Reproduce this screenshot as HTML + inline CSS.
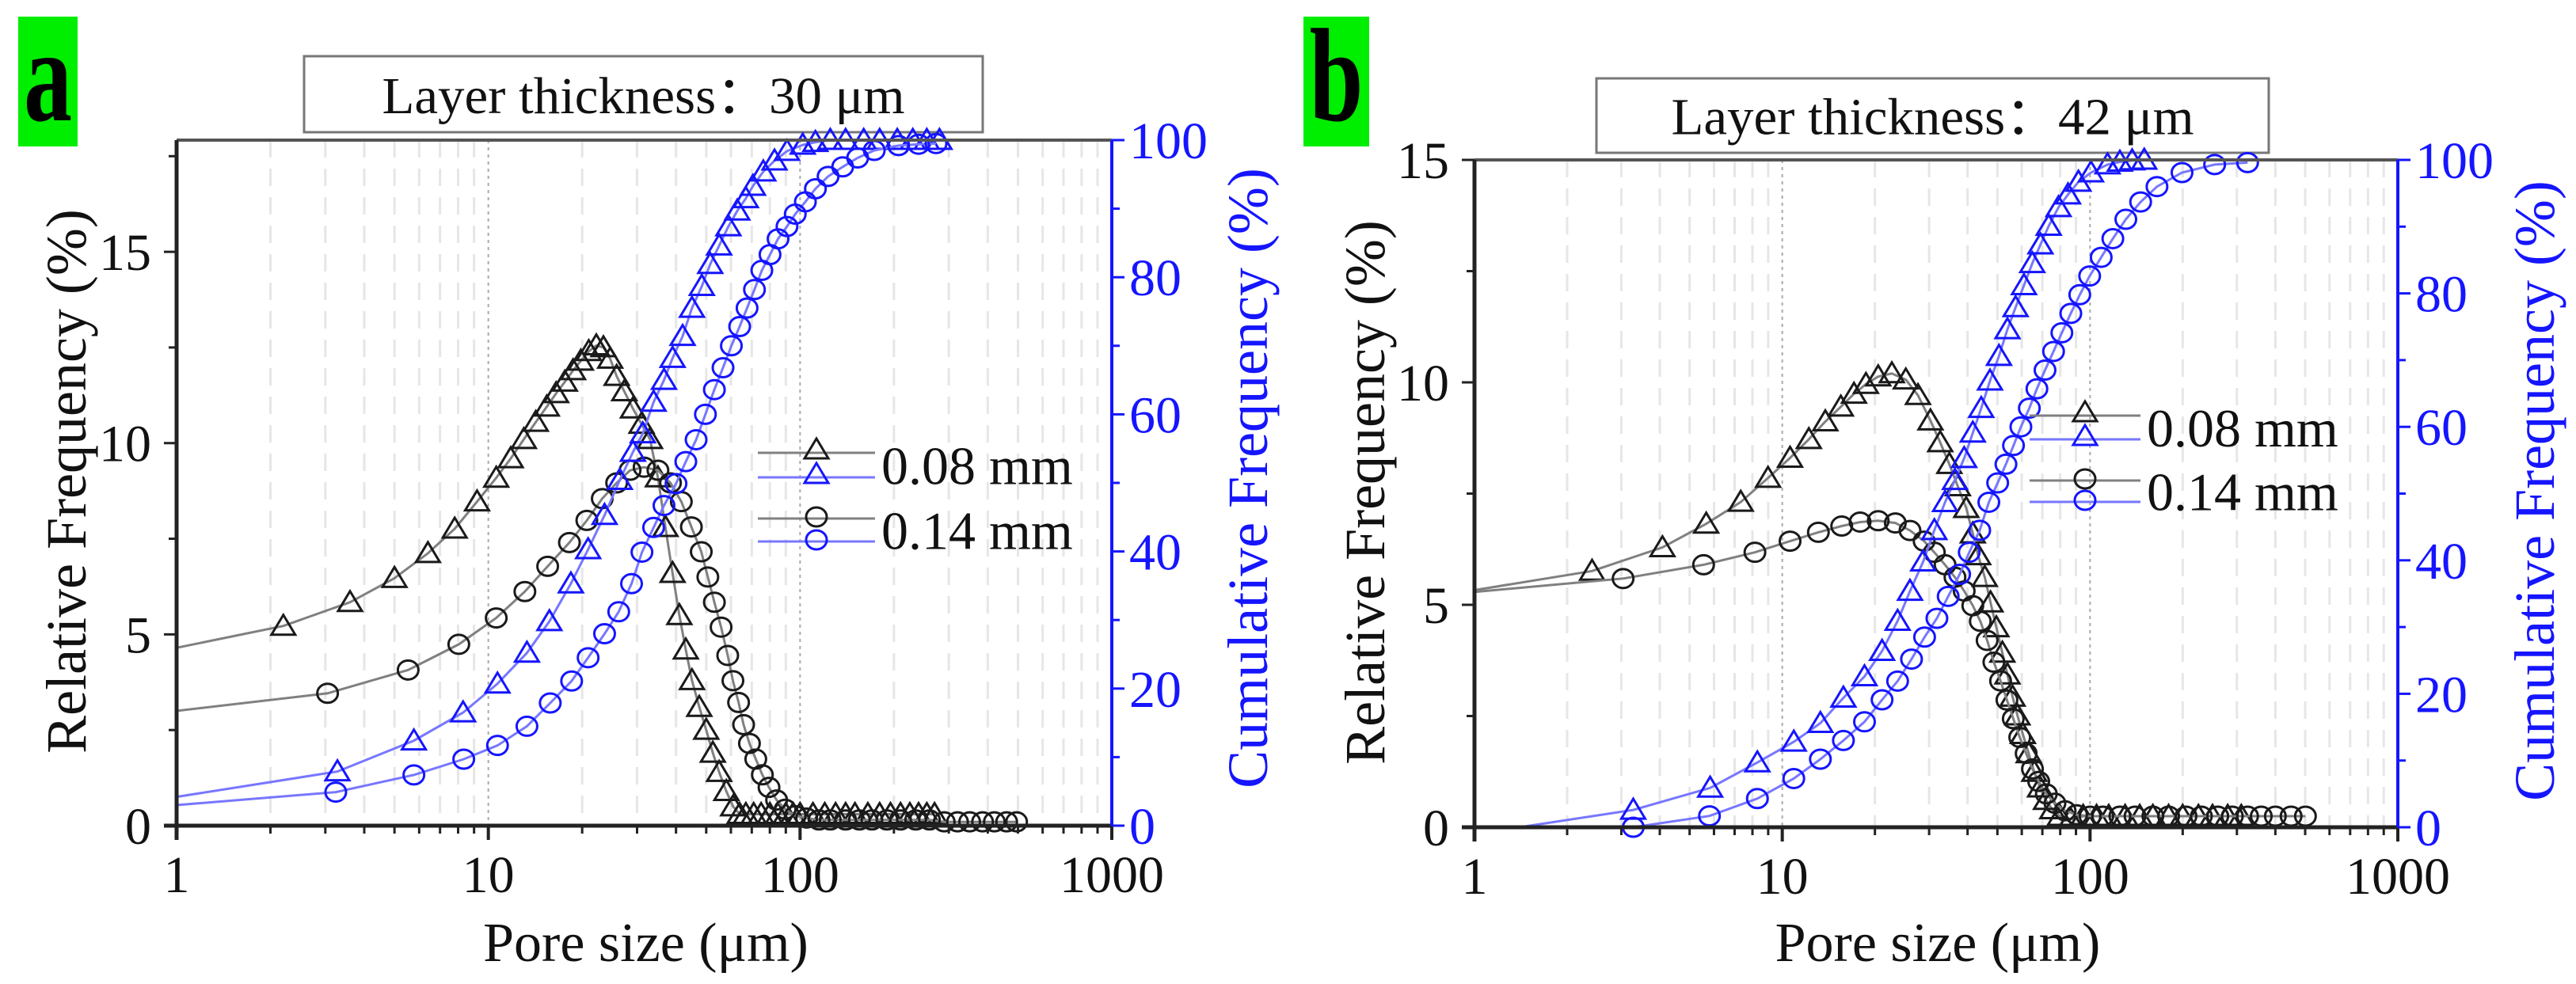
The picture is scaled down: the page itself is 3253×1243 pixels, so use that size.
<!DOCTYPE html>
<html><head><meta charset="utf-8">
<style>
html,body{margin:0;padding:0;background:#fff;}
svg{display:block;font-family:"Liberation Serif","DejaVu Serif",serif;}
</style></head>
<body>
<svg id="fig" width="3253" height="1243" viewBox="0 0 3253 1243" xmlns="http://www.w3.org/2000/svg">
<rect x="0" y="0" width="3253" height="1243" fill="#fff"/>
</svg>
<script>
// ---------------- Data: panel a (layer thickness 30 um) ----------------
const aRelTriX = [1, 2.2, 3.6, 5.0, 6.4, 7.8, 9.2, 10.6, 11.8, 13, 14.2, 15.4, 16.5, 17.6, 18.7, 19.8, 21, 22.2, 23.4, 24.6, 25.8, 27.3, 29.1, 31, 33, 35, 37, 39, 41, 43, 45, 47.5, 50, 52.5, 55, 58, 61, 64, 67, 71, 75, 80, 85, 90, 95, 100, 110, 120, 130, 140, 150, 165, 180, 195, 210, 225, 240, 255, 270];
const aRelTriY = [4.65, 5.22, 5.84, 6.47, 7.12, 7.76, 8.47, 9.09, 9.6, 10.1, 10.55, 10.95, 11.3, 11.6, 11.9, 12.15, 12.4, 12.55, 12.5, 12.2, 11.75, 11.35, 10.9, 10.5, 10.1, 9.1, 7.8, 6.6, 5.5, 4.6, 3.8, 3.1, 2.5, 1.9, 1.4, 0.9, 0.5, 0.3, 0.3, 0.3, 0.3, 0.3, 0.3, 0.3, 0.3, 0.3, 0.3, 0.3, 0.3, 0.3, 0.3, 0.3, 0.3, 0.3, 0.3, 0.3, 0.3, 0.3, 0.3];
const aRelCirX = [1, 3.05, 5.53, 8.04, 10.6, 13.1, 15.5, 18.2, 20.7, 23.2, 25.8, 28.5, 31.6, 35, 38.4, 41.6, 44.8, 48.2, 50.6, 53.1, 55.8, 58.6, 60.9, 63.5, 65.9, 68.8, 72.1, 75.7, 79.5, 84.1, 89.6, 96.5, 105, 115, 125, 140, 155, 170, 190, 210, 235, 260, 290, 320, 350, 385, 420, 460, 495];
const aRelCirY = [3.0, 3.46, 4.07, 4.74, 5.43, 6.12, 6.78, 7.4, 7.98, 8.55, 8.96, 9.29, 9.37, 9.29, 8.96, 8.47, 7.81, 7.16, 6.5, 5.84, 5.19, 4.45, 3.79, 3.22, 2.64, 2.15, 1.74, 1.33, 1.0, 0.67, 0.43, 0.26, 0.2, 0.15, 0.15, 0.15, 0.15, 0.15, 0.15, 0.15, 0.15, 0.15, 0.1, 0.1, 0.1, 0.1, 0.1, 0.1, 0.1];
const aCumTriX = [1, 3.28, 5.77, 8.3, 10.7, 13.3, 15.7, 18.4, 20.9, 23.6, 26.4, 29.1, 31.3, 33.9, 36.6, 39.0, 42, 45, 48.4, 51.5, 55, 58.9, 62.9, 67, 70.6, 76.2, 82.8, 90.8, 102, 112, 125, 140, 160, 180, 205, 230, 255, 280];
const aCumTriY = [4.2, 7.9, 12.4, 16.5, 20.7, 25.2, 29.8, 35.3, 40.3, 45.3, 50.4, 54.5, 57.2, 61.8, 65, 68.2, 71.4, 75.5, 78.7, 81.9, 84.6, 87.4, 89.7, 91.5, 93.3, 95.4, 97, 98.4, 99.3, 99.7, 100, 100, 100, 100, 100, 100, 100, 100];
const aCumCirX = [1, 3.24, 5.77, 8.34, 10.7, 13.3, 15.8, 18.5, 20.9, 23.6, 26.2, 28.8, 31.1, 33.9, 36.6, 40, 43, 46.4, 49.7, 53.1, 56.6, 60.2, 64, 67.6, 71.4, 75.4, 80.1, 85, 90.8, 96.5, 104, 112, 123, 137, 153, 173, 207, 240, 273];
const aCumCirY = [3.0, 4.9, 7.4, 9.7, 11.7, 14.5, 17.9, 21.1, 24.5, 28, 31.2, 35.3, 39.9, 43.5, 46.7, 49.9, 53.1, 56.3, 60, 63.6, 66.8, 70, 72.8, 75.5, 78.2, 81, 83.3, 85.6, 87.4, 89.2, 91, 92.9, 94.7, 96.1, 97.4, 98.5, 99.2, 99.4, 99.5];

// ---------------- Data: panel b (layer thickness 42 um) ----------------
const bRelTriX = [1, 2.41, 4.08, 5.66, 7.33, 8.99, 10.6, 12.2, 13.8, 15.5, 17.1, 18.7, 20.5, 22.7, 25.2, 27.6, 30.3, 32.6, 34.9, 37.2, 39.6, 41.6, 43.3, 45.5, 47.5, 49.6, 51.9, 53.9, 56, 58.1, 60.5, 63.2, 65.9, 68.8, 71.9, 75.4, 79.8, 86.5, 95, 105, 115, 130, 145, 160, 180, 200, 225, 250, 280, 310];
const bRelTriY = [5.33, 5.76, 6.29, 6.82, 7.31, 7.85, 8.3, 8.72, 9.12, 9.45, 9.74, 9.96, 10.13, 10.2, 10.06, 9.71, 9.14, 8.65, 8.16, 7.66, 7.17, 6.6, 6.11, 5.62, 5.05, 4.49, 3.92, 3.43, 2.93, 2.51, 2.09, 1.66, 1.24, 0.89, 0.61, 0.4, 0.25, 0.18, 0.25, 0.25, 0.25, 0.25, 0.25, 0.25, 0.25, 0.25, 0.25, 0.25, 0.25, 0.25];
const bRelCirX = [1, 3.04, 5.55, 8.15, 10.6, 13.1, 15.6, 17.9, 20.5, 23.3, 26, 28.9, 31.2, 33.8, 36.4, 39, 41.6, 44, 46.3, 48.7, 51.2, 53.7, 56.3, 59.1, 62, 65, 68.1, 72.1, 76.9, 83, 90.4, 100, 110, 125, 140, 160, 180, 205, 230, 260, 290, 325, 360, 400, 450, 501];
const bRelCirY = [5.29, 5.59, 5.9, 6.18, 6.43, 6.63, 6.77, 6.86, 6.89, 6.84, 6.67, 6.43, 6.18, 5.9, 5.62, 5.31, 4.98, 4.63, 4.2, 3.71, 3.29, 2.86, 2.44, 2.02, 1.66, 1.31, 1.03, 0.75, 0.54, 0.37, 0.28, 0.25, 0.25, 0.25, 0.25, 0.25, 0.25, 0.25, 0.25, 0.25, 0.25, 0.25, 0.25, 0.25, 0.25, 0.25];
const bCumTriX = [1.4, 3.28, 5.83, 8.3, 10.9, 13.3, 15.8, 18.5, 21.1, 23.7, 26, 28.7, 31.2, 33.8, 36.4, 39, 41.6, 44.3, 47.3, 50.6, 53.9, 57.3, 61, 64.9, 69, 73.4, 79, 84.8, 91.7, 100.7, 114, 125, 137, 150];
const bCumTriY = [0, 2.6, 5.9, 9.7, 12.8, 15.6, 19.4, 22.6, 26.4, 30.9, 35.4, 39.8, 44.5, 48.7, 52, 55.3, 59.1, 62.8, 66.9, 70.6, 74.6, 77.9, 81.2, 84.5, 87.3, 90.1, 92.9, 94.8, 96.7, 98.1, 99.3, 99.7, 99.9, 100];
const bCumCirX = [2.8, 3.28, 5.8, 8.3, 10.9, 13.3, 15.8, 18.5, 21.1, 23.7, 26.3, 29, 31.8, 34.6, 37.7, 40.5, 43.8, 46.9, 50.1, 53.3, 56.4, 59.6, 63.5, 67.2, 71.4, 76.1, 81, 86.6, 92.6, 99.7, 108.7, 118.6, 130.7, 146, 165, 199, 254, 325];
const bCumCirY = [0, 0, 1.7, 4.3, 7.3, 10.2, 13, 15.8, 19.1, 21.9, 25.2, 28.5, 31.3, 34.6, 37.9, 41.2, 44.5, 48.7, 51.6, 54.4, 57.2, 60, 62.8, 65.7, 68.5, 71.3, 74.1, 77, 79.8, 82.6, 85.4, 88.2, 91.1, 93.7, 96, 98.1, 99.3, 99.6];

// tick labels
const xTickValues = [1, 10, 100, 1000];
const xTickLabels = ["1", "10", "100", "1000"];
const aLeftTicks = [0, 5, 10, 15];
const bLeftTicks = [0, 5, 10, 15];
const rightTicks = [0, 20, 40, 60, 80, 100];
const seriesLabels = ["0.08 mm", "0.14 mm"];

const NS = "http://www.w3.org/2000/svg";
const svg = document.getElementById('fig');
function el(tag, attrs, parent) {
  const e = document.createElementNS(NS, tag);
  for (const k in attrs) e.setAttribute(k, attrs[k]);
  (parent || svg).appendChild(e);
  return e;
}
function txt(s, attrs, parent) { const t = el('text', attrs, parent); t.textContent = s; return t; }

const BLACK = "#1a1a1a", GRAY = "#808080", BLUE = "#1515ff", LBLUE = "#7777ff";

function triangle(g, x, y, color) {
  const p = el('polygon', {points: `${x},${y-14} ${x-15},${y+11} ${x+15},${y+11}`, fill: 'none', stroke: color, 'stroke-width': 3}, g);
  return p;
}
function circle(g, x, y, color) {
  return el('ellipse', {cx: x, cy: y, rx: 13, ry: 12, fill: 'none', stroke: color, 'stroke-width': 3}, g);
}

function panel(cfg) {
  const {L, R, T, B, ymax, key} = cfg;
  const g = el('g', {});
  
  
  const xs = v => L + (Math.log10(v) / 3) * (R - L);
  const yl = v => B - v / ymax * (B - T);
  const yr = v => B - v / 100 * (B - T);

  // panel letter
  const lb = el('rect', {x: cfg.letterX, y: 21, width: cfg.letterW, height: 164, fill: '#00ee00'}, g);
  
  
  const lt = txt(key, {x: 0, y: 0, 'font-size': 122, 'font-weight': 'bold', 'text-anchor': 'middle', fill: '#000',
    transform: `translate(${cfg.letterX + cfg.letterW/2},152) scale(1,1.38)`}, g);
  
  

  // title box
  const tb = el('rect', {x: cfg.tbx, y: cfg.tby, width: cfg.tbw, height: cfg.tbh, fill: '#fff', stroke: '#777', 'stroke-width': 3}, g);
  
  
  const tt = txt(cfg.title, {x: cfg.tbx + cfg.tbw/2, y: cfg.tby + cfg.tbh*0.75, 'font-size': 66, 'text-anchor': 'middle', fill: '#111',
    textLength: cfg.titleLen, lengthAdjust: 'spacingAndGlyphs'}, g);
  
  

  // grid
  const grid = el('g', {}, g);
  
  
  for (let d = 0; d < 3; d++) {
    for (let m = 1; m <= 9; m++) {
      const v = Math.pow(10, d) * m;
      if (m === 1 && d === 0) continue;
      const x = xs(v);
      if (m === 1) el('line', {x1: x, y1: T, x2: x, y2: B, stroke: '#aaa', 'stroke-width': 2, 'stroke-dasharray': '4 5'}, grid);
      else el('line', {x1: x, y1: T, x2: x, y2: B, stroke: '#e6e6e6', 'stroke-width': 3, 'stroke-dasharray': '22 14'}, grid);
    }
  }

  // series
  const series = [
    {xs: cfg.relTriX, ys: cfg.relTriY, y: yl, c: BLACK, lc: GRAY, m: 'tri', name: 'relative-frequency-008'},
    {xs: cfg.relCirX, ys: cfg.relCirY, y: yl, c: BLACK, lc: GRAY, m: 'cir', name: 'relative-frequency-014'},
    {xs: cfg.cumTriX, ys: cfg.cumTriY, y: yr, c: BLUE, lc: LBLUE, m: 'tri', name: 'cumulative-frequency-008'},
    {xs: cfg.cumCirX, ys: cfg.cumCirY, y: yr, c: BLUE, lc: LBLUE, m: 'cir', name: 'cumulative-frequency-014'},
  ];
  for (const s of series) {
    const sg = el('g', {}, g);
    
    
    const pts = s.xs.map((v, i) => `${xs(v).toFixed(1)},${s.y(s.ys[i]).toFixed(1)}`).join(' ');
    const pl = el('polyline', {points: pts, fill: 'none', stroke: s.lc, 'stroke-width': 3}, sg);
    
    
    for (let i = 1; i < s.xs.length; i++) {
      const px = xs(s.xs[i]), py = s.y(s.ys[i]);
      const mk = s.m === 'tri' ? triangle(sg, px, py, s.c) : circle(sg, px, py, s.c);
      
      
    }
  }

  // axes
  const ax = el('g', {}, g);
  
  
  el('line', {x1: L, y1: T, x2: R, y2: T, stroke: '#555', 'stroke-width': 4}, ax);
  el('line', {x1: L, y1: T, x2: L, y2: B + 18, stroke: '#222', 'stroke-width': 5}, ax);
  el('line', {x1: L - 16, y1: B, x2: R, y2: B, stroke: '#222', 'stroke-width': 5}, ax);
  el('line', {x1: R, y1: T, x2: R, y2: B, stroke: BLUE, 'stroke-width': 4}, ax);

  // x ticks
  for (let d = 0; d < 3; d++) for (let m = 2; m <= 9; m++) {
    const x = xs(Math.pow(10, d) * m);
    el('line', {x1: x, y1: B, x2: x, y2: B + 10, stroke: '#222', 'stroke-width': 3}, ax);
  }
  xTickValues.forEach((v, i) => {
    const x = xs(v);
    el('line', {x1: x, y1: B, x2: x, y2: B + 18, stroke: '#222', 'stroke-width': 4}, ax);
    const t = txt(xTickLabels[i], {x: x, y: B + 84, 'font-size': 66, 'text-anchor': 'middle', fill: '#111'}, ax);
    
    
  });
  // left ticks
  for (let v = 0; v <= ymax; v += 2.5) {
    const y = yl(v);
    const major = Math.abs(v % 5) < 1e-9;
    el('line', {x1: L - (major ? 16 : 10), y1: y, x2: L, y2: y, stroke: '#222', 'stroke-width': 3}, ax);
  }
  cfg.leftTicks.forEach(v => {
    const t = txt(String(v), {x: L - 32, y: yl(v) + 23, 'font-size': 66, 'text-anchor': 'end', fill: '#111'}, ax);
    
    
  });
  // right ticks
  for (let v = 0; v <= 100; v += 10) {
    const y = yr(v);
    const major = v % 20 === 0;
    el('line', {x1: R, y1: y, x2: R + (major ? 16 : 10), y2: y, stroke: BLUE, 'stroke-width': 3}, ax);
  }
  rightTicks.forEach(v => {
    const t = txt(String(v), {x: R + 22, y: yr(v) + 23, 'font-size': 66, 'text-anchor': 'start', fill: BLUE}, ax);
    
    
  });

  // axis titles
  const xt = txt('Pore size (μm)', {x: (L + R) / 2 + 2, y: 1214, 'font-size': 70, 'text-anchor': 'middle', fill: '#111'}, g);
  
  
  const ylt = txt('Relative Frequency (%)', {x: 0, y: 0, 'font-size': 72, 'text-anchor': 'middle', fill: '#111',
    transform: `translate(${cfg.ylx},${cfg.yly}) rotate(-90)`}, g);
  
  
  const yrt = txt('Cumulative Frequency (%)', {x: 0, y: 0, 'font-size': 72, 'text-anchor': 'middle', fill: BLUE,
    transform: `translate(${cfg.yrx},${cfg.yry}) rotate(-90)`}, g);
  
  

  // legend
  const lg = el('g', {}, g);
  
  
  const rows = [
    {y: cfg.legY[0], c: BLACK, lc: GRAY, m: 'tri'},
    {y: cfg.legY[1], c: BLUE, lc: LBLUE, m: 'tri'},
    {y: cfg.legY[2], c: BLACK, lc: GRAY, m: 'cir'},
    {y: cfg.legY[3], c: BLUE, lc: LBLUE, m: 'cir'},
  ];
  rows.forEach(r => {
    const e = el('g', {}, lg);
    
    
    el('line', {x1: cfg.legX1, y1: r.y, x2: cfg.legX2, y2: r.y, stroke: r.lc, 'stroke-width': 3}, e);
    const mx = (cfg.legX1 + cfg.legX2) / 2;
    if (r.m === 'tri') triangle(e, mx, r.y - 4, r.c); else circle(e, mx, r.y - 2, r.c);
  });
  seriesLabels.forEach((s, i) => {
    const t = txt(s, {x: cfg.legX2 + 8, y: (cfg.legY[i*2] + cfg.legY[i*2+1]) / 2 + 24, 'font-size': 68, fill: '#111'}, lg);
    
    
  });
}

panel({key: 'a', L: 223, R: 1404, T: 177, B: 1043, ymax: 17.92,
  letterX: 23, letterW: 75,
  tbx: 384, tby: 71, tbw: 857, tbh: 96, title: 'Layer thickness：30 μm', titleLen: 660,
  relTriX: aRelTriX, relTriY: aRelTriY, relCirX: aRelCirX, relCirY: aRelCirY,
  cumTriX: aCumTriX, cumTriY: aCumTriY, cumCirX: aCumCirX, cumCirY: aCumCirY,
  leftTicks: aLeftTicks, ylx: 108, yly: 608, yrx: 1600, yry: 604,
  legX1: 957, legX2: 1105, legY: [572, 603, 655, 684]});

panel({key: 'b', L: 1862, R: 3028, T: 202, B: 1045, ymax: 15,
  letterX: 1646, letterW: 83,
  tbx: 2016, tby: 99, tbw: 849, tbh: 94, title: 'Layer thickness：42 μm', titleLen: 660,
  relTriX: bRelTriX, relTriY: bRelTriY, relCirX: bRelCirX, relCirY: bRelCirY,
  cumTriX: bCumTriX, cumTriY: bCumTriY, cumCirX: bCumCirX, cumCirY: bCumCirY,
  leftTicks: bLeftTicks, ylx: 1748, yly: 622, yrx: 3225, yry: 620,
  legX1: 2563, legX2: 2703, legY: [525, 555, 607, 634]});
</script>
</body></html>
